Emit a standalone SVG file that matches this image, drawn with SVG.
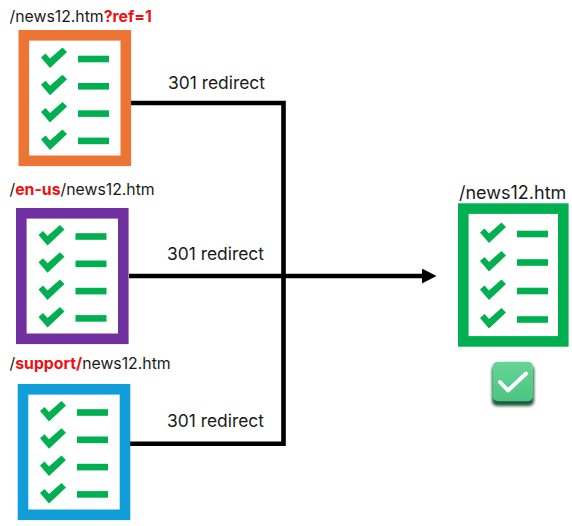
<svg xmlns="http://www.w3.org/2000/svg" width="572" height="526" viewBox="0 0 572 526">
<style>
.t{font-family:"Inter","Noto Sans","Liberation Sans",sans-serif;font-size:15.800px;fill:#1a1a1a}
.r{fill:#ee1111;font-weight:700}
.l{font-family:"Inter","Noto Sans","Liberation Sans",sans-serif;font-size:17.400px;fill:#1a1a1a}
.c{fill:none;stroke:#000;stroke-width:4.600}
.b{fill:#fff;stroke-width:10.600}
</style>
<defs>
<g id="row"><polygon points="0,-1.500 4.500,-5.500 9,-0.500 21.500,-11.500 26,-7 9,9" fill="#00b050"/><rect x="37" y="-3.300" width="31" height="6.600" fill="#00b050"/></g>
<g id="rows"><use href="#row"/><use href="#row" y="27.300"/><use href="#row" y="54.600"/><use href="#row" y="81.900"/></g>
<marker id="a" markerUnits="userSpaceOnUse" markerWidth="15" markerHeight="16" refX="1" refY="7.500" orient="auto"><polygon points="0,0 14.500,7.500 0,15" fill="#000"/></marker>
<linearGradient id="g" x1="0" y1="0" x2="0" y2="1"><stop offset="0" stop-color="#66d596"/><stop offset="1" stop-color="#4cc481"/></linearGradient>
<filter id="s" x="-30%" y="-30%" width="160%" height="170%"><feGaussianBlur stdDeviation="1.800"/></filter>
</defs>
<g id="connectors">
<path class="c" d="M131 103H283.500V443.700H130"/>
<path class="c" d="M129 276H423" marker-end="url(#a)"/>
</g>
<g id="node-ref">
<rect class="b" x="23.800" y="35.300" width="102" height="125.500" stroke="#ed7533"/>
<use href="#rows" x="41" y="59"/>
<text class="t" x="9.500" y="22">/news12.htm<tspan class="r">?ref=1</tspan></text>
</g>
<g id="node-en-us">
<rect class="b" x="21.300" y="213.300" width="102" height="125.500" stroke="#7030a0"/>
<use href="#rows" x="38.500" y="236.500"/>
<text class="t" x="9.500" y="195">/<tspan class="r">en-us</tspan>/news12.htm</text>
</g>
<g id="node-support">
<rect class="b" x="23" y="389.300" width="102" height="125.500" stroke="#119ed8"/>
<use href="#rows" x="40" y="412.500"/>
<text class="t" x="9.500" y="369">/<tspan class="r">support/</tspan>news12.htm</text>
</g>
<g id="node-target">
<rect class="b" x="463.300" y="208.600" width="100" height="132.800" stroke="#00b050"/>
<g transform="translate(480 234)"><use href="#row"/><use href="#row" y="28.500"/><use href="#row" y="57"/><use href="#row" y="85.500"/></g>
<text class="t" x="459" y="199" style="font-size:18px">/news12.htm</text>
</g>
<g id="status-check">
<rect x="492" y="365" width="42" height="41" rx="5" fill="#1f5a3c" filter="url(#s)"/>
<rect x="492.700" y="361.700" width="40.300" height="39.500" rx="5" fill="url(#g)"/>
<polyline points="500,382 508,390.500 526,373.500" fill="none" stroke="#fff" stroke-width="4" stroke-linecap="round" stroke-linejoin="round"/>
</g>
<g id="labels">
<text class="l" x="168" y="89">301 redirect</text>
<text class="l" x="167" y="260">301 redirect</text>
<text class="l" x="167" y="427">301 redirect</text>
</g>
</svg>
